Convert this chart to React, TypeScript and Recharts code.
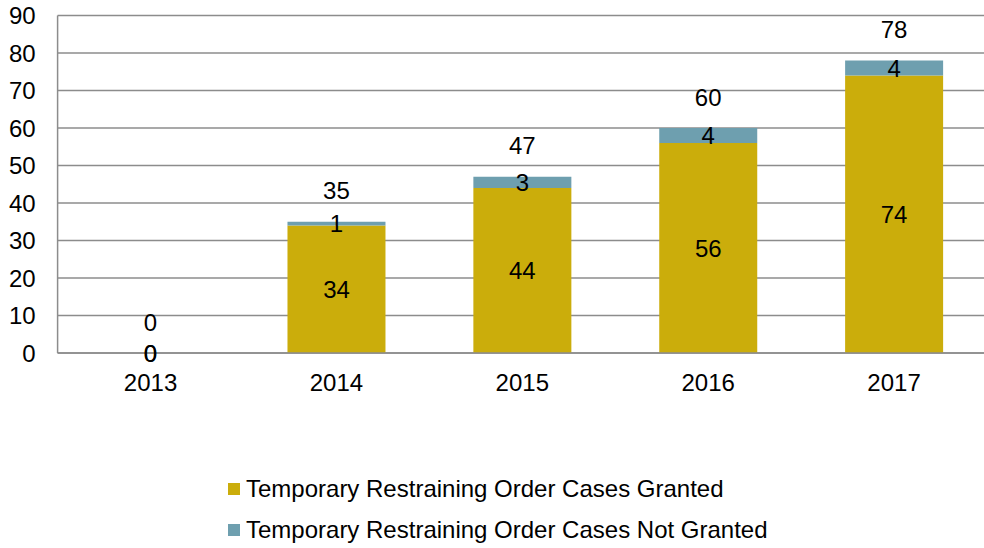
import React from "react";
import { ComposedChart, Bar, Line, XAxis, YAxis, CartesianGrid, LabelList, Legend } from "recharts";

const years = ["2013", "2014", "2015", "2016", "2017"];
const granted = [0, 34, 44, 56, 74];
const notGranted = [0, 1, 3, 4, 4];
const yTicks = [0, 10, 20, 30, 40, 50, 60, 70, 80, 90];

const seriesNames = [
  "Temporary Restraining Order Cases Granted",
  "Temporary Restraining Order Cases Not Granted",
];
const colors = ["#CBAD0B", "#6E9FAF"];

const data = years.map((y, i) => ({
  year: y,
  granted: granted[i],
  notGranted: notGranted[i],
  total: granted[i] + notGranted[i],
}));

const FONT = "'Liberation Sans', Arial, sans-serif";
const FS = 24;

const TotalLabel = (props: any) => {
  const { x, y, index } = props;
  const d = data[index];
  if (!d) return null;
  const cx = Number(x);
  const cy = Number(y);
  return (
    <g>
      <text x={cx} y={cy - 31} textAnchor="middle" dominantBaseline="central" fontFamily={FONT} fontSize={FS} fill="#000">
        {d.total}
      </text>
      {d.granted === 0 && (
        <text x={cx} y={cy} textAnchor="middle" dominantBaseline="central" fontFamily={FONT} fontSize={FS} fill="#000">
          {d.granted}
        </text>
      )}
      {d.notGranted === 0 && (
        <text x={cx} y={cy} textAnchor="middle" dominantBaseline="central" fontFamily={FONT} fontSize={FS} fill="#000">
          {d.notGranted}
        </text>
      )}
    </g>
  );
};

const LegendContent = () => (
  <div style={{ fontFamily: FONT, fontSize: FS, color: "#000" }}>
    {seriesNames.map((n, i) => (
      <div key={n} style={{ display: "flex", alignItems: "center", height: 41, whiteSpace: "nowrap" }}>
        <span style={{ display: "inline-block", width: 12, height: 12, background: colors[i], marginRight: 6 }} />
        <span>{n}</span>
      </div>
    ))}
  </div>
);

export default function App() {
  return (
    <div style={{ position: "absolute", left: 0, top: 0, width: 984, height: 548, overflow: "hidden", background: "#fff" }}>
      <ComposedChart
        width={990}
        height={548}
        data={data}
        margin={{ top: 15.5, right: 3, bottom: 155, left: 0 }}
        barSize={98}
      >
        <CartesianGrid vertical={false} stroke="#8c8c8c" strokeWidth={1.5} />
        <XAxis
          dataKey="year"
          height={40}
          tickLine={false}
          tickSize={0}
          tickMargin={21}
          axisLine={{ stroke: "#8c8c8c", strokeWidth: 1.5 }}
          tick={{ fill: "#000", fontSize: FS, fontFamily: FONT }}
        />
        <YAxis
          width={57.6}
          domain={[0, 90]}
          ticks={yTicks}
          interval={0}
          tickLine={false}
          tickSize={0}
          tickMargin={22}
          axisLine={{ stroke: "#8c8c8c", strokeWidth: 1.5 }}
          tick={{ fill: "#000", fontSize: FS, fontFamily: FONT }}
        />
        <Legend
          layout="horizontal"
          verticalAlign="middle"
          align="center"
          wrapperStyle={{ left: 228, top: 468.5, width: "auto" }}
          content={LegendContent}
        />
        <Bar dataKey="granted" stackId="a" fill={colors[0]} isAnimationActive={false} name={seriesNames[0]}>
          <LabelList dataKey="granted" position="center" fill="#000" fontSize={FS} fontFamily={FONT} />
        </Bar>
        <Bar dataKey="notGranted" stackId="a" fill={colors[1]} isAnimationActive={false} name={seriesNames[1]}>
          <LabelList dataKey="notGranted" position="center" fill="#000" fontSize={FS} fontFamily={FONT} />
        </Bar>
        <Line
          dataKey="total"
          stroke="none"
          dot={false}
          activeDot={false}
          legendType="none"
          isAnimationActive={false}
        >
          <LabelList dataKey="total" content={TotalLabel} />
        </Line>
      </ComposedChart>
    </div>
  );
}
